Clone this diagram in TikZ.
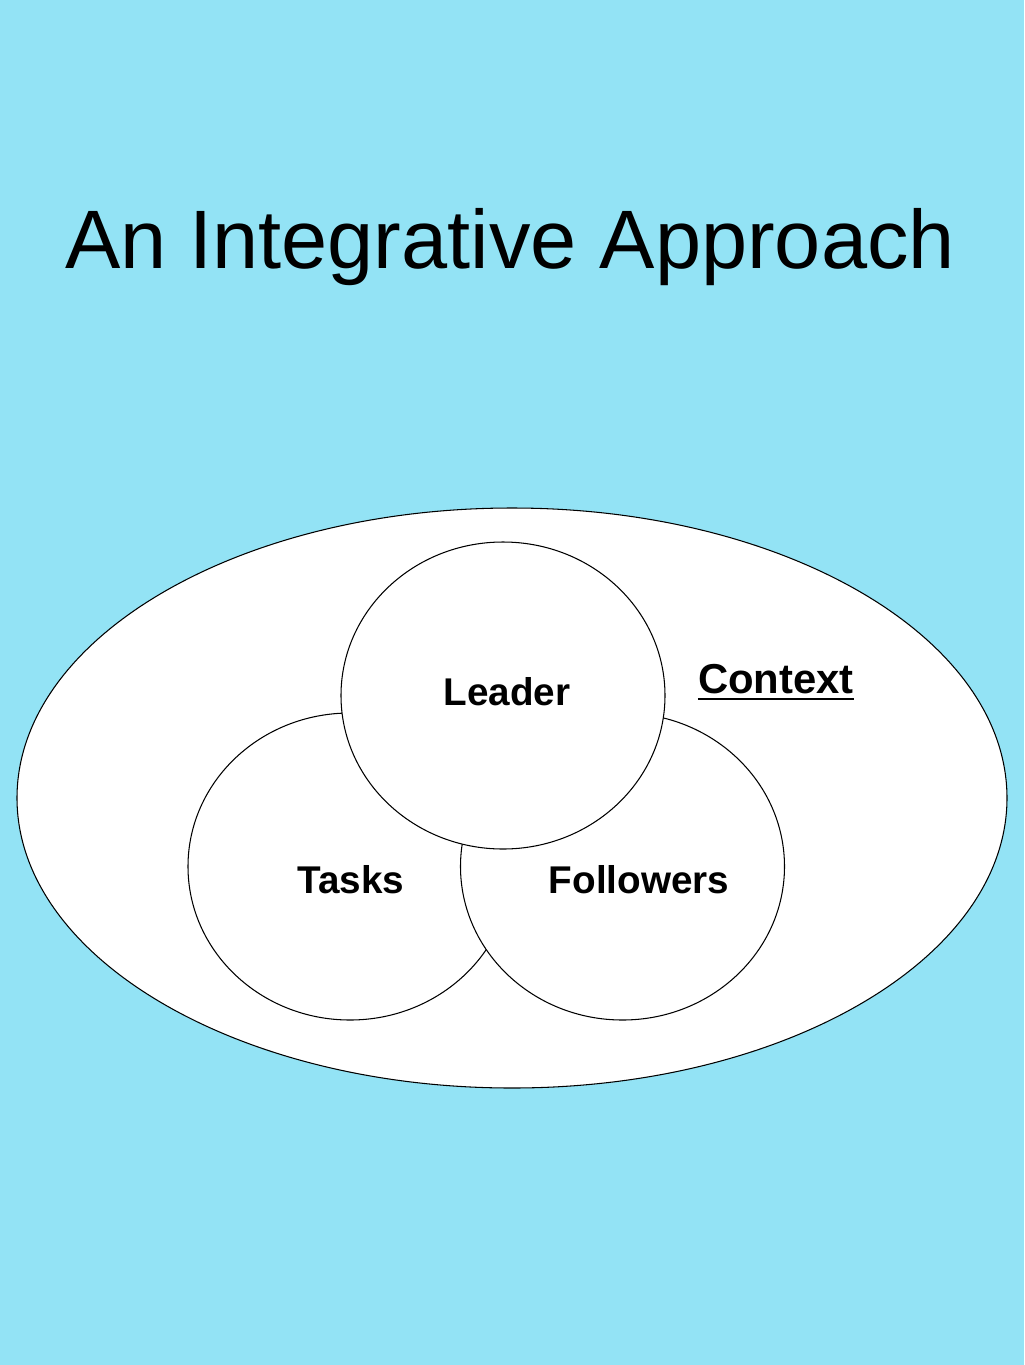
\documentclass[tikz,border=0pt]{standalone}
\usepackage{fontspec}
\setmainfont{Liberation Sans}
\usetikzlibrary{shapes.geometric}
\definecolor{skyback}{HTML}{93E3F5}
\begin{document}
\begin{tikzpicture}[x=0.2mm,y=-0.2mm,
    part/.style={draw=black,fill=white,line width=0.6pt,ellipse,inner sep=0pt,minimum width=324*0.2mm,minimum height=307*0.2mm},
    lab/.style={font=\fontsize{22}{26}\selectfont\bfseries,anchor=base}]
      \fill[skyback] (0, 0) rectangle (1024, 1365);
      \useasboundingbox (0, 0) rectangle (1024, 1365);
      \node[anchor=base,font=\fontsize{47.2}{56}\selectfont] (title) at (510, 268) {An Integrative Approach};
      \node[draw=black,fill=white,line width=0.6pt,ellipse,inner sep=0pt,minimum width=990*0.2mm,minimum height=580*0.2mm] (context) at (512, 798) {};
      \node[part] (tasks) at (350, 866.5) {};
      \node[part] (followers) at (622.5, 866.5) {};
      \node[part] (leader) at (503, 695.5) {};
      \node[lab] (leaderlab) at (507, 705) {Leader};
      \node[lab] (taskslab) at (351, 893) {Tasks};
      \node[lab] (followerslab) at (639, 893) {Followers};
      \node[lab,inner sep=0pt,font=\fontsize{23.8}{28}\selectfont\bfseries] (contextlab) at (776, 693) {Context};
      \draw[line width=1.2pt] (contextlab.base west) ++(0, 6) -- ([yshift=-6*0.2mm]contextlab.base east);
    \end{tikzpicture}
\end{document}
